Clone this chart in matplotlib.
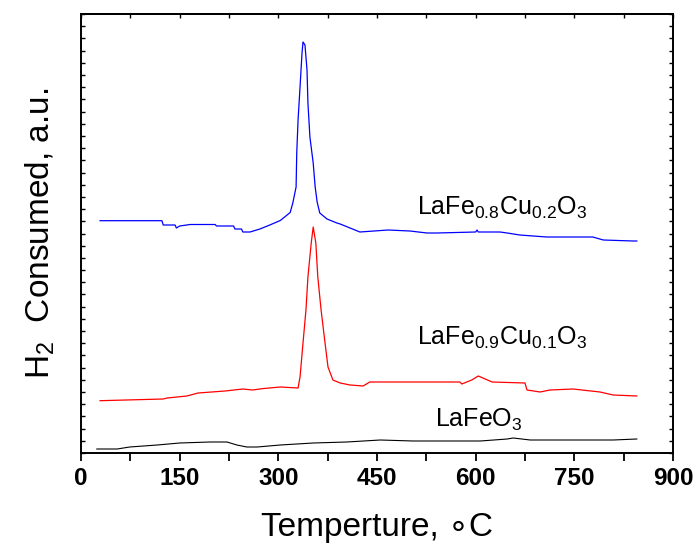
import matplotlib
matplotlib.use("Agg")
import matplotlib.pyplot as plt
from matplotlib.ticker import MultipleLocator
import numpy as np

plt.rcParams['font.family'] = ['Liberation Sans', 'DejaVu Sans']
plt.rcParams['mathtext.fontset'] = 'custom'
plt.rcParams['mathtext.rm'] = 'Liberation Sans'

# Temperature (°C) and signal (arbitrary units)
t_cu02 = [29, 123, 125, 143, 145, 150, 166, 204, 206, 232, 234, 244, 246, 257, 272, 287, 303,
          318, 322, 327, 328, 330, 333, 336, 337.5, 340.5, 343.6, 345, 348, 353, 356, 359, 363,
          374, 389, 394, 409, 424, 467, 500, 526, 541, 600, 602, 604, 637, 648, 667, 708, 778,
          794, 839, 845]
y_cu02 = [232.3, 232.3, 228, 228, 225, 227, 228.5, 228.5, 227, 227, 224, 224, 221, 221, 224, 228,
          232.5, 240.5, 250, 266, 300, 333, 366, 400, 411, 408, 383, 350, 316, 290, 266, 251, 240,
          234, 230, 229, 225, 221, 223, 222, 220, 220, 221, 223, 221, 221, 220, 218, 216, 216,
          213, 212, 212]

t_cu01 = [29, 125, 131, 161, 178, 219, 246, 261, 275, 303, 330, 333, 337.5, 342, 345, 350, 353,
          357, 360, 365, 371, 375.5, 383, 394, 409, 429, 439, 576, 579, 594, 604, 611, 625, 675,
          678, 698, 713, 748, 789, 809, 845]
y_cu01 = [52.3, 54, 55, 57, 60, 62, 64, 63, 64.3, 66, 65, 76, 110, 143, 176, 210, 226,
          210, 176, 143, 110, 86, 73, 70, 68, 67, 71, 71, 69, 73, 77, 75, 71, 70,
          63, 61, 63, 64, 61, 58, 57]

t_fe = [24, 55, 74, 116, 150, 196, 222, 237, 252, 268, 303, 353, 404, 455, 505, 556, 607, 648,
        657, 683, 759, 809, 845]
y_fe = [4, 4, 6, 8, 10, 11, 11, 8, 6, 6, 8, 10, 11, 13, 12, 12, 12, 14, 15, 13, 13, 13, 14]

x_ticks = [0, 150, 300, 450, 600, 750, 900]

fig = plt.figure(figsize=(6.97, 5.44), dpi=100)
ax = fig.add_axes([81/697, 91/544, 592/697, 439/544])

lw = 0.9
ax.plot(t_cu02, y_cu02, color='#0000ff', lw=lw)
ax.plot(t_cu01, y_cu01, color='#ff0000', lw=lw)
ax.plot(t_fe, y_fe, color='black', lw=0.8)

ax.set_xlim(0, 900)
ax.set_ylim(0, 439)
ax.set_xticks(x_ticks)
ax.xaxis.set_minor_locator(MultipleLocator(75))
ax.yaxis.set_major_locator(MultipleLocator(439/36))
ax.set_yticklabels([])
ax.tick_params(axis='x', which='both', direction='out', length=6, width=1.3,
               labelsize=17.5, pad=4)
ax.tick_params(axis='y', which='both', direction='in', length=3, width=1.0,
               left=True, right=True)
for lab in ax.get_xticklabels():
    lab.set_fontweight('bold')
for s in ax.spines.values():
    s.set_linewidth(1.4)

top = ax.secondary_xaxis('top')
top.set_xticks(x_ticks)
top.xaxis.set_minor_locator(MultipleLocator(75))
top.tick_params(axis='x', which='both', direction='in', length=3, width=1.0,
                labeltop=False)
top.spines['top'].set_linewidth(1.4)

ax.set_xlabel('Temperture, \u2218C', fontsize=24, labelpad=16)
ax.set_ylabel('H$_\\mathregular{2}$  Consumed, a.u.', fontsize=24, labelpad=14)

ax.text(511, 238, r'LaFe$_\mathregular{0.8}$Cu$_\mathregular{0.2}$O$_\mathregular{3}$', fontsize=18)
ax.text(511, 108, r'LaFe$_\mathregular{0.9}$Cu$_\mathregular{0.1}$O$_\mathregular{3}$', fontsize=18)
ax.text(538, 26, r'LaFeO$_\mathregular{3}$', fontsize=18)

fig.savefig('out.png', dpi=100)
